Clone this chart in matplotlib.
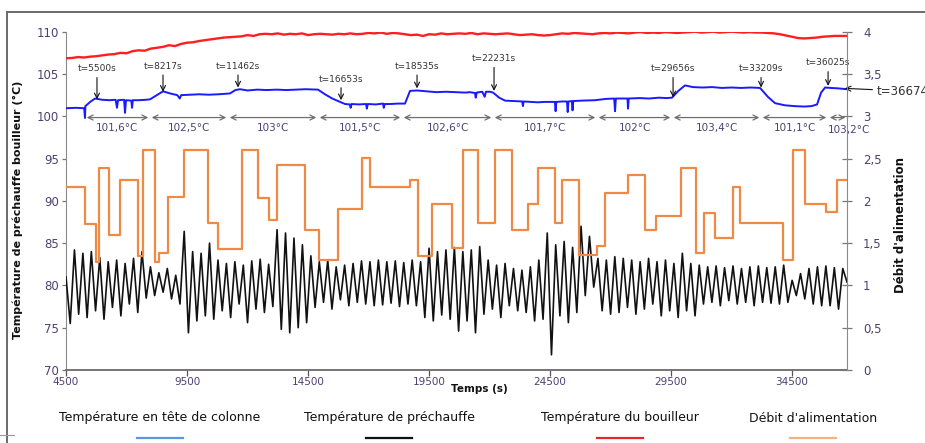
import numpy as np
import matplotlib
matplotlib.use("Agg")
import matplotlib.pyplot as plt
from matplotlib.lines import Line2D

# ---------------- data ----------------
x_ticks = [4500, 9500, 14500, 19500, 24500, 29500, 34500]
left_ticks = [70, 75, 80, 85, 90, 95, 100, 105, 110]
right_ticks = [0, 0.5, 1, 1.5, 2, 2.5, 3, 3.5, 4]
right_tick_labels = ['0', '0,5', '1', '1,5', '2', '2,5', '3', '3,5', '4']
t_start, t_end = 4500, 36770

# Température du bouilleur (red), sampled every ~250 s
boiler = [106.85, 106.9, 107.0, 106.95, 107.05, 107.1, 107.2, 107.3, 107.35,
          107.5, 107.45, 107.7, 107.8, 107.75, 108.0, 108.1, 108.2,
          108.4, 108.3, 108.55, 108.7, 108.75, 108.9, 109.0, 109.1,
          109.2, 109.3, 109.35, 109.4, 109.45, 109.6, 109.5, 109.7,
          109.75, 109.7, 109.8, 109.65, 109.75, 109.7, 109.8, 109.6,
          109.7, 109.75, 109.7, 109.65, 109.75, 109.7, 109.8, 109.7,
          109.75, 109.85, 109.8, 109.9, 109.75, 109.85, 109.8, 109.7,
          109.6, 109.65, 109.5, 109.7, 109.65, 109.8, 109.7, 109.75,
          109.8, 109.75, 109.85, 109.7, 109.8, 109.75, 109.7, 109.75,
          109.8, 109.7, 109.6, 109.65, 109.7, 109.6, 109.55, 109.6,
          109.7, 109.8, 109.75, 109.85, 109.8, 109.75, 109.7, 109.8,
          109.85, 109.8, 109.9, 109.85, 109.8, 109.9, 109.95, 109.85,
          109.9, 109.85, 109.95, 109.9, 109.85, 109.9, 109.95, 110.0,
          109.9, 109.95, 110.0, 109.9, 109.95, 110.0, 109.95, 109.9,
          109.95, 109.9, 109.9, 109.85, 109.8, 109.7, 109.55, 109.4,
          109.25, 109.2, 109.25, 109.3, 109.4, 109.45, 109.5, 109.5, 109.5]

# Température en tête de colonne (blue): time / value pairs
column_t = [4500, 4900, 5250, 5285, 5300, 5500, 5700, 6000, 6300, 6550, 6607, 6650,
            6900, 6938, 6980, 7200, 7229, 7260, 7500, 7800, 7970, 8200, 8508, 8800,
            9100, 9200, 9260, 9600, 10000, 10400, 10800, 11277, 11500, 11690, 12000,
            12400, 12800, 13200, 13600, 14000, 14400, 14913, 15200, 15500, 15822,
            16028, 16230, 16260, 16300, 16600, 16900, 16930, 16970, 17300, 17600,
            17630, 17670, 17900, 18200, 18507, 18714, 19000, 19400, 19800, 20200,
            20600, 21000, 21193, 21400, 21430, 21470, 21700, 21800, 21850, 22020,
            22144, 22400, 22640, 23000, 23350, 23380, 23410, 23700, 24000, 24300,
            24700, 24730, 24760, 25000, 25200, 25230, 25260, 25400, 25430, 25460,
            25800, 26359, 26800, 27150, 27186, 27220, 27700, 27722, 27750, 28200,
            28600, 29000, 29300, 29541, 29800, 30078, 30400, 30800, 31200, 31600,
            32000, 32400, 32800, 33177, 33500, 33797, 34200, 34600, 35000, 35300,
            35533, 35700, 35864, 36100, 36400, 36770]
column_v = [100.95, 101.0, 100.95, 99.8, 101.2, 101.7, 102.1, 101.95, 101.9, 101.95, 101.0, 101.9,
            101.95, 100.4, 101.9, 101.85, 101.0, 101.9, 101.9, 101.95, 102.0, 102.4, 102.95, 102.7,
            102.5, 102.1, 102.5, 102.55, 102.6, 102.55, 102.6, 102.7, 103.1, 103.2, 103.05,
            103.15, 103.1, 103.15, 103.1, 103.15, 103.2, 103.15, 102.6, 102.1, 101.7,
            101.45, 101.4, 101.0, 101.45, 101.4, 101.45, 100.9, 101.45, 101.4, 101.5,
            101.0, 101.45, 101.45, 101.5, 101.5, 103.0, 103.05, 102.95, 102.85, 102.9,
            102.85, 102.8, 102.85, 102.75, 102.2, 102.8, 102.9, 102.3, 102.9, 102.9,
            102.8, 102.2, 101.85, 101.8, 101.75, 101.2, 101.75, 101.7, 101.65, 101.7,
            101.7, 100.6, 101.7, 101.75, 101.75, 100.5, 101.75, 101.8, 100.7, 101.8,
            101.85, 101.9, 102.05, 102.1, 100.6, 102.1, 102.1, 100.9, 102.1, 102.15,
            102.1, 102.2, 102.15, 102.2, 103.0, 103.65, 103.45, 103.4, 103.45, 103.35,
            103.4, 103.35, 103.4, 103.35, 102.3, 101.55, 101.3, 101.2, 101.15, 101.2,
            101.4, 102.8, 103.4, 103.35, 103.3, 103.2]

# Température de préchauffe (black): successive peaks and troughs
preheat = [81.0, 75.5, 84.2, 76.6, 83.8, 76.2, 84.0, 77.0,
           83.3, 76.0, 82.8, 77.4, 83.0, 76.4, 82.6, 77.8, 83.2, 76.8,
           84.0, 78.5, 82.2, 78.8, 81.5, 79.2, 82.0, 78.4, 81.2, 77.8,
           86.4, 74.4, 84.0, 75.8, 83.8, 76.4, 85.0, 76.0,
           83.0, 77.0, 82.6, 76.2, 82.8, 77.8, 82.4, 75.6, 82.9, 77.2, 83.1, 76.8, 82.5, 77.5,
           86.6, 74.8, 86.2, 74.4, 85.6, 75.0, 84.8, 75.6,
           83.5, 77.4, 82.8, 78.0, 83.0, 77.2, 82.2, 78.3, 82.4, 77.6, 82.6, 78.0,
           82.9, 77.8, 82.8, 77.6, 83.0, 77.7, 82.8, 77.9, 82.9, 77.5, 82.7, 77.8, 83.0, 77.6, 82.8, 76.2,
           84.4, 75.8, 84.0, 76.5, 84.2, 76.0, 84.5, 74.6, 84.0, 75.8, 84.2, 74.4, 84.6, 76.6,
           83.0, 77.2, 82.4, 76.2, 82.6, 77.6, 82.0, 77.0, 81.8, 76.8, 82.2, 75.8, 83.0, 76.0,
           86.2, 71.8,
           84.8, 76.4, 85.2, 75.6, 84.5, 76.8,
           87.0, 78.8, 85.8, 79.8,
           83.2, 77.0, 83.0, 76.6, 83.4, 76.8, 83.2, 77.4, 83.0, 76.6, 82.8, 77.2, 83.2, 77.8, 82.8, 76.4, 83.0, 77.0, 82.6, 76.2,
           83.8, 77.0, 82.6, 76.4,
           82.4, 77.8, 82.2, 78.0, 82.3, 77.6, 82.1, 78.2, 82.3, 77.8, 82.0, 78.0, 82.2, 77.6, 82.3, 78.0, 82.1, 77.9, 82.2, 77.8, 82.4, 78.0,
           80.6, 78.8, 81.4, 78.4,
           82.0, 77.8, 82.2, 77.6, 82.3, 77.6, 82.1, 77.2, 82.0, 80.4]

# Débit d'alimentation (orange, right axis): step start times and values
feed_t = [4500, 5285, 5760, 5850, 6290, 6730, 7488, 7695, 8178, 8355, 8728, 9377,
          10381, 10794, 11758, 12447, 12902, 13232, 14376, 14968, 15753, 16717, 17061,
          18714, 19058, 19609, 20436, 20918, 21538, 22227, 22915, 23577, 24018, 24707,
          25010, 25699, 26429, 26774, 27738, 28427, 28882, 29915, 30535, 30866, 31320,
          32050, 32353, 34116, 34529, 35039, 35893, 36375, 36770]
feed_v = [2.16, 1.73, 1.28, 2.39, 1.60, 2.25, 1.35, 2.60, 1.28, 1.38, 2.04, 2.60,
          1.74, 1.43, 2.60, 2.03, 1.77, 2.42, 1.65, 1.30, 1.90, 2.51, 2.16,
          2.25, 1.35, 1.96, 1.44, 2.60, 1.74, 2.60, 1.65, 1.96, 2.39, 1.74,
          2.25, 1.36, 1.47, 2.09, 2.30, 1.65, 1.82, 2.39, 1.38, 1.86, 1.56,
          2.16, 1.74, 1.30, 2.60, 1.96, 1.87, 2.25, 2.25]

# change-time annotations
event_labels = ['t=5500s', 't=8217s', 't=11462s', 't=16653s', 't=18535s',
                't=22231s', 't=29656s', 't=33209s', 't=36025s']
event_t = [5780, 8508, 11607, 15864, 19004, 22186, 29583, 33219, 35988]
event_tip = [102.0, 102.9, 103.4, 101.9, 103.3, 103.0, 102.25, 103.4, 103.6]
event_text_y = [105.6, 105.9, 105.9, 104.4, 105.9, 106.8, 105.6, 105.6, 106.3]
end_label = 't=36674s'
end_t, end_v = 36674, 103.3

# plateau ranges with mean column-top temperature
plateau_bounds = [5285, 7970, 11194, 14913, 18384, 22145, 26442, 29541, 33219, 35988, 36773]
plateau_labels = ['101,6°C', '102,5°C', '103°C', '101,5°C', '102,6°C',
                  '101,7°C', '102°C', '103,4°C', '101,1°C', '103,2°C']
plateau_y = 99.85
plateau_label_y = 98.6

legend_labels = ['Température en tête de colonne', 'Température de préchauffe',
                 'Température du bouilleur', "Débit d'alimentation"]
legend_colors = ['#5b9bd5', '#111111', '#e8262e', '#f4b183']

# ---------------- figure ----------------
W, H = 925, 443
fig = plt.figure(figsize=(W / 100, H / 100), dpi=100)
plt.rcParams['font.family'] = ['DejaVu Sans']

ax = fig.add_axes([66 / W, 1 - 370 / H, (847 - 66) / W, (370 - 31.7) / H])
ax2 = ax.twinx()

tick_col = '#4f3f72'

t_boiler = np.linspace(t_start, 36750, len(boiler))
t_pre = np.linspace(t_start, t_end, len(preheat))

ax.plot(t_pre, preheat, color='#111111', lw=1.2, zorder=3)
ax.plot(t_boiler, boiler, color='#ff1f1f', lw=1.7, zorder=3)
ax.plot(column_t, column_v, color='#1a1aff', lw=1.4, zorder=3)
ax2.step(feed_t, feed_v, where='post', color='#ee8a45', lw=1.6, zorder=2)

ax.set_xlim(t_start, t_end)
ax.set_ylim(70, 110)
ax2.set_ylim(0, 4)

ax.set_xticks(x_ticks)
ax.set_xticklabels([str(v) for v in x_ticks])
ax.set_yticks(left_ticks)
ax2.set_yticks(right_ticks)
ax2.set_yticklabels(right_tick_labels)

for a in (ax, ax2):
    a.spines['top'].set_visible(False)
ax.spines['left'].set_color('#8a8a8a')
ax.spines['bottom'].set_color('#6a6a6a')
ax.spines['right'].set_visible(False)
ax2.spines['left'].set_visible(False)
ax2.spines['bottom'].set_visible(False)
ax2.spines['right'].set_color('#8a8a8a')
ax.spines['bottom'].set_linewidth(1.3)

ax.tick_params(axis='y', direction='out', length=3, width=0.9, color='#777777',
               labelsize=8.5, labelcolor=tick_col, pad=2)
ax.tick_params(axis='x', direction='out', length=4, width=0.9, color='#555555',
               labelsize=7.5, labelcolor=tick_col, pad=1)
ax2.tick_params(axis='y', direction='inout', length=7, width=0.9, color='#777777',
                labelsize=8.5, labelcolor=tick_col, pad=8)

# change-time arrows
for lab, tx, tip, ty in zip(event_labels, event_t, event_tip, event_text_y):
    ax.annotate(lab, xy=(tx, tip), xytext=(tx, ty), ha='center', va='center',
                fontsize=6.5, color='#333333', zorder=5,
                arrowprops=dict(arrowstyle='->', color='#111111', lw=0.8,
                                shrinkA=1, shrinkB=0, mutation_scale=9))
ax.annotate(end_label, xy=(end_t, end_v), xytext=(23, -2), textcoords='offset points',
            ha='left', va='center', fontsize=8.5, color='#333333',
            annotation_clip=False,
            arrowprops=dict(arrowstyle='->', color='#111111', lw=0.8,
                            shrinkA=1, shrinkB=0, mutation_scale=9))

# plateau range arrows
for i, lab in enumerate(plateau_labels):
    b0, b1 = plateau_bounds[i], plateau_bounds[i + 1]
    ax.annotate('', xy=(b1 - 70, plateau_y), xytext=(b0 + 70, plateau_y),
                arrowprops=dict(arrowstyle='<->', color='#6f6f6f', lw=0.9,
                                shrinkA=0, shrinkB=0, mutation_scale=9),
                annotation_clip=False)
    xm = (b0 + b1) / 2
    if i == len(plateau_labels) - 1:
        xm = b1 + 100
        ax.text(xm, plateau_label_y - 0.25, lab, ha='center', va='center', fontsize=7.5,
                color=tick_col, clip_on=False)
    else:
        ax.text(xm, plateau_label_y, lab, ha='center', va='center', fontsize=7.5,
                color=tick_col)

# axis titles
fig.text(18 / W, 1 - 210 / H, 'Température de préchauffe bouilleur (°C)', rotation=90,
         ha='center', va='center', fontsize=8, fontweight='bold', color='#111111')
fig.text(900 / W, 1 - 225 / H, "Débit d'alimentation", rotation=90,
         ha='center', va='center', fontsize=8.5, fontweight='bold', color='#111111')
fig.text(451 / W, 1 - 389 / H, 'Temps (s)', ha='left', va='center',
         fontsize=7.5, fontweight='bold', color='#111111')

# legend (text above a coloured line, as in the reference)
leg_x = [160, 389, 620, 813]
for xc, lab, col in zip(leg_x, legend_labels, legend_colors):
    fig.text(xc / W, 1 - 418 / H, lab, ha='center', va='center', fontsize=9,
             color='#111111')
    fig.add_artist(Line2D([(xc - 23) / W, (xc + 23) / W], [1 - 438 / H, 1 - 438 / H],
                          color=col, lw=1.6))

# outer frame
fig.add_artist(Line2D([7 / W, 7 / W], [0, 1 - 12 / H], color='#6a6a6a', lw=1.4))
fig.add_artist(Line2D([7 / W, 1], [1 - 12 / H, 1 - 12 / H], color='#6a6a6a', lw=1.4))
fig.add_artist(Line2D([0, 14 / W], [1 - 435 / H, 1 - 435 / H], color='#9a9a9a', lw=0.8))

fig.savefig('out.png', dpi=100)
